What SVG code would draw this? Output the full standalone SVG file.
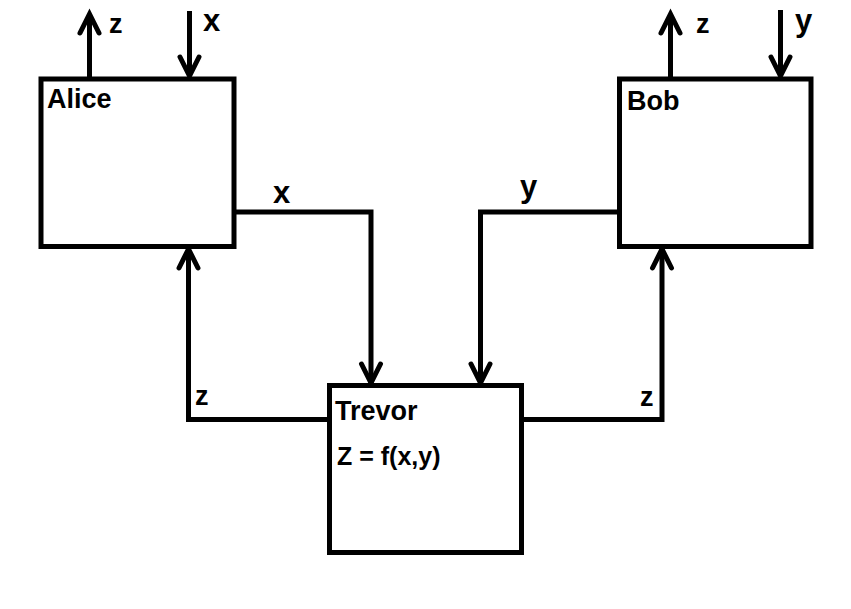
<svg xmlns="http://www.w3.org/2000/svg" width="851" height="609" viewBox="0 0 851 609">
<style>
.box{fill:#fff;stroke:#000;stroke-width:5}
.wire{fill:none;stroke:#000;stroke-width:5;stroke-linejoin:miter}
.lbl{font-family:"Liberation Sans",Arial,sans-serif;font-weight:bold;font-size:27px;fill:#000}
.f{font-family:"Liberation Sans",Arial,sans-serif;font-weight:bold;font-size:25px;fill:#000}
.v{font-family:"Liberation Sans",Arial,sans-serif;font-weight:bold;font-size:31px;fill:#000}
.z{font-family:"Liberation Sans",Arial,sans-serif;font-weight:bold;font-size:27px;fill:#000}
</style>
<defs>
<marker id="ah" markerUnits="userSpaceOnUse" markerWidth="30" markerHeight="30" viewBox="-25 -15 30 30" refX="0" refY="0" orient="auto" overflow="visible">
<path d="M-19,-9.5 L0,0 L-19,9.5" fill="none" stroke="#000" stroke-width="5" stroke-linecap="round" stroke-linejoin="miter"/>
</marker>
</defs>
<rect width="851" height="609" fill="#fff"/>
<g id="connectors">
<line class="wire" x1="89.5" y1="79" x2="89.5" y2="14" marker-end="url(#ah)"/>
<line class="wire" x1="189.5" y1="11" x2="189.5" y2="76" marker-end="url(#ah)"/>
<line class="wire" x1="670.5" y1="79" x2="670.5" y2="14" marker-end="url(#ah)"/>
<line class="wire" x1="780.5" y1="10" x2="780.5" y2="76" marker-end="url(#ah)"/>
<polyline class="wire" points="234,212 371,212 371,383" marker-end="url(#ah)"/>
<polyline class="wire" points="619.5,212 480.5,212 480.5,383" marker-end="url(#ah)"/>
<polyline class="wire" points="329.5,419.5 188.5,419.5 188.5,249" marker-end="url(#ah)"/>
<polyline class="wire" points="521.5,419.5 662,419.5 662,249" marker-end="url(#ah)"/>
<text class="z" x="109" y="33">z</text>
<text class="v" x="203" y="31">x</text>
<text class="z" x="696" y="33">z</text>
<text class="v" x="795" y="31">y</text>
<text class="v" x="273" y="203">x</text>
<text class="v" x="520" y="197">y</text>
<text class="z" x="195" y="405">z</text>
<text class="z" x="640" y="406">z</text>
</g>
<g id="alice">
<rect class="box" x="41" y="79" width="193" height="167.5"/>
<text class="lbl" x="47" y="108">Alice</text>
</g>
<g id="bob">
<rect class="box" x="619.5" y="79" width="191.5" height="167.5"/>
<text class="lbl" x="627" y="110">Bob</text>
</g>
<g id="trevor">
<rect class="box" x="329.5" y="385.5" width="192" height="167"/>
<text class="lbl" x="335" y="420">Trevor</text>
<text class="f" x="337" y="465">Z = f(x,y)</text>
</g>
</svg>
